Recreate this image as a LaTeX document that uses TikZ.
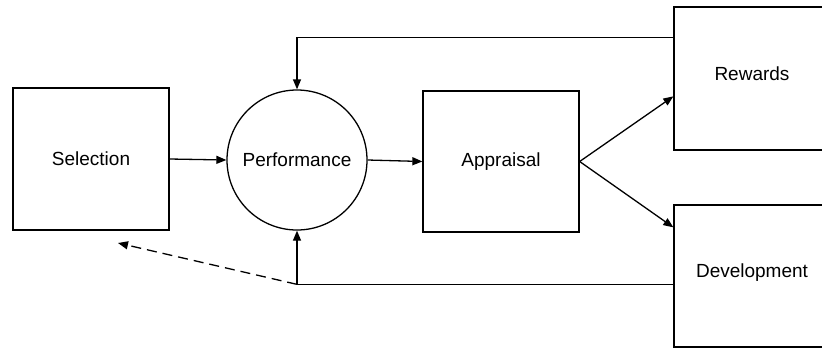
\documentclass[tikz,border=0pt]{standalone}
\usepackage{fontspec}
\setmainfont{Liberation Sans}
\usetikzlibrary{arrows.meta,calc}
\begin{document}
\begin{tikzpicture}[x=1pt,y=-1pt,
  label font/.style={font=\fontsize{19}{23}\selectfont},
  stage/.style={draw,line width=1.3pt,rectangle,minimum width=156pt,inner sep=0pt,label font},
  hub/.style={draw,line width=1.3pt,circle,minimum size=140pt,inner sep=0pt,label font},
  arr/.style={line width=1.3pt,-{Triangle[length=10pt,width=8pt]}},
  fb/.style={line width=1.3pt,dash pattern=on 10pt off 6pt,-{Triangle[length=10pt,width=8pt]}}]
\useasboundingbox (0,0) rectangle (822,349);
\clip (0,0) rectangle (822,349);

% stages of the cycle
\node[stage,minimum height=142pt] (sel) at (91,159) {Selection};
\node[hub] (perf) at (297,160) {Performance};
\node[stage,minimum height=141pt] (appr) at (501,161.5) {Appraisal};
\node[stage,minimum height=143pt] (rew) at (752,78.5) {};
\node[label font] (rewtxt) at (752,74) {Rewards};
\node[stage,minimum height=142pt] (dev) at (752,276) {};
\node[label font] (devtxt) at (752,273) {Development};

% forward flow
\draw[arr] (sel.east) -- (perf.west);
\draw[arr] (perf.east) -- (appr.west);
\coordinate (rewin) at ($(rew.north west)+(0,90)$);
\coordinate (devin) at ($(dev.north west)+(0,23)$);
\draw[arr] (appr.east) -- (rewin);
\draw[arr] (appr.east) -- (devin);

% feedback loops
\coordinate (rewout) at ($(rew.north west)+(0,31)$);
\draw[arr] (rewout) -| (perf.north);
\coordinate (devout) at ($(dev.north west)+(0,80)$);
\coordinate (junc) at (perf.south |- devout);
\draw[arr] (devout) -- (junc) -- (perf.south);
\coordinate (selfb) at (118,243);
\draw[fb] (junc) -- (selfb);
\end{tikzpicture}
\end{document}
